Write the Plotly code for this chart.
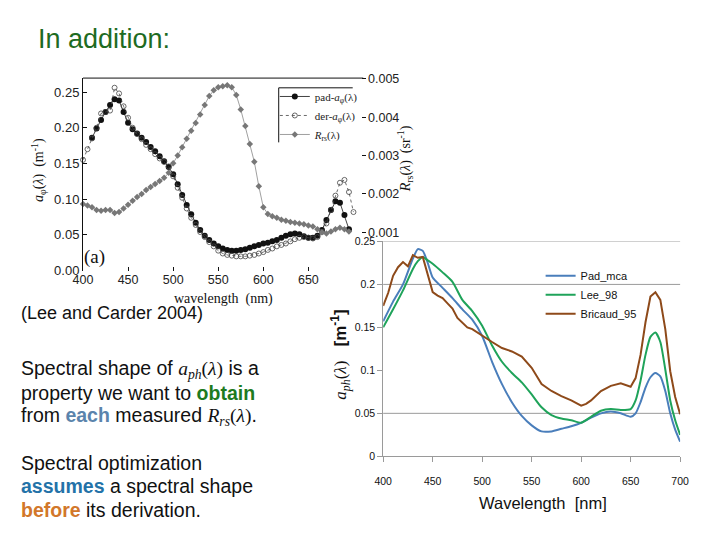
import plotly.graph_objects as go

W, H = 720, 540

# ---------------- top chart (Lee and Carder 2004) data ----------------
wl_top = list(range(400, 700, 5))  # 400..695
pad_wl = list(range(410, 700, 5))
pad_a = [0.186, 0.199, 0.211, 0.222, 0.232, 0.240, 0.238, 0.222, 0.207, 0.198,
         0.192, 0.186, 0.180, 0.173, 0.167, 0.160, 0.153, 0.145, 0.135, 0.121,
         0.106, 0.092, 0.079, 0.067, 0.057, 0.049, 0.043, 0.038, 0.034, 0.031,
         0.029, 0.028, 0.028, 0.029, 0.030, 0.032, 0.034, 0.036, 0.038, 0.039,
         0.041, 0.043, 0.046, 0.049, 0.051, 0.052, 0.051, 0.048, 0.046, 0.046,
         0.049, 0.057, 0.071, 0.085, 0.097, 0.095, 0.078, 0.058]
der_wl = list(range(400, 705, 5))
der_a = [0.155, 0.170, 0.185, 0.200, 0.220, 0.222, 0.224, 0.256, 0.248, 0.230,
         0.214, 0.200, 0.191, 0.184, 0.176, 0.170, 0.163, 0.157, 0.152, 0.146,
         0.132, 0.116, 0.102, 0.087, 0.074, 0.064, 0.054, 0.047, 0.040, 0.034,
         0.028, 0.024, 0.022, 0.021, 0.020, 0.020, 0.020, 0.021, 0.022, 0.024,
         0.026, 0.029, 0.031, 0.034, 0.036, 0.038, 0.041, 0.044, 0.046, 0.047,
         0.046, 0.045, 0.047, 0.054, 0.066, 0.085, 0.105, 0.123, 0.127, 0.110,
         0.082, 0.058]
der_wl = der_wl[:len(der_a)]
rrs = [0.00174, 0.00170, 0.00165, 0.00158, 0.00156, 0.00158, 0.00158, 0.00150,
       0.00153, 0.00162, 0.00172, 0.00182, 0.00192, 0.00200, 0.00210, 0.00218,
       0.00226, 0.00234, 0.00242, 0.00255, 0.00280, 0.00300, 0.00322, 0.00344,
       0.00365, 0.00385, 0.00407, 0.00432, 0.00455, 0.00470, 0.00478, 0.00481,
       0.00483, 0.00478, 0.00458, 0.00420, 0.00377, 0.00330, 0.00284, 0.00220,
       0.00165, 0.00148, 0.00142, 0.00138, 0.00133, 0.00130, 0.00127, 0.00125,
       0.00123, 0.00121, 0.00118, 0.00115, 0.00108, 0.00100, 0.00097, 0.00102,
       0.00108, 0.00112, 0.00108, 0.00102]
top_xticks = [400, 450, 500, 550, 600, 650]
top_yticks = [0.0, 0.05, 0.10, 0.15, 0.20, 0.25]
top_yticktext = ["0.00", "0.05", "0.10", "0.15", "0.20", "0.25"]
top_y2ticks = [0.001, 0.002, 0.003, 0.004, 0.005]

# ---------------- bottom chart data ----------------
wl_b = [400, 410, 420, 430, 435, 440, 445, 450, 460, 470, 480, 490, 500, 510,
        520, 530, 540, 550, 560, 570, 580, 590, 600, 610, 620, 630, 640, 650,
        655, 660, 665, 670, 675, 680, 685, 690, 695, 700]
pad_mca = [0.157, 0.180, 0.200, 0.230, 0.241, 0.239, 0.225, 0.208, 0.196, 0.184,
           0.171, 0.159, 0.140, 0.110, 0.084, 0.063, 0.047, 0.036, 0.029, 0.029,
           0.032, 0.035, 0.039, 0.045, 0.050, 0.052, 0.050, 0.046, 0.050, 0.063,
           0.080, 0.092, 0.097, 0.093, 0.076, 0.050, 0.031, 0.017]
lee_98 = [0.150, 0.171, 0.193, 0.218, 0.227, 0.232, 0.228, 0.224, 0.214, 0.203,
          0.182, 0.169, 0.152, 0.129, 0.110, 0.097, 0.086, 0.072, 0.057, 0.048,
          0.044, 0.042, 0.039, 0.046, 0.053, 0.055, 0.054, 0.055, 0.065, 0.088,
          0.118, 0.139, 0.144, 0.133, 0.101, 0.065, 0.042, 0.025]
wl_bri = [400, 405, 410, 415, 420, 425, 430, 435, 440, 445, 450, 455, 460, 465,
          470, 475, 480, 485, 490, 495, 500, 510, 520, 530, 540, 550, 560, 570,
          580, 590, 600, 605, 610, 620, 630, 640, 650, 655, 660, 665, 670, 675,
          680, 685, 690, 695, 700]
bricaud_95 = [0.175, 0.190, 0.210, 0.220, 0.226, 0.221, 0.234, 0.231, 0.232,
              0.212, 0.191, 0.187, 0.184, 0.178, 0.172, 0.161, 0.156, 0.150,
              0.148, 0.144, 0.140, 0.133, 0.126, 0.122, 0.116, 0.103, 0.084,
              0.076, 0.070, 0.065, 0.059, 0.061, 0.065, 0.076, 0.082, 0.085,
              0.081, 0.091, 0.118, 0.156, 0.186, 0.191, 0.182, 0.148, 0.099,
              0.069, 0.049]
bot_yticks = [0, 0.05, 0.10, 0.15, 0.20, 0.25]
bot_yticktext = ["0", "0.05", "0.1", "0.15", "0.2", "0.25"]
bot_grid = [0.05, 0.20, 0.25]

SERIF = "Liberation Serif, Times New Roman, serif"
SANS = "Liberation Sans, Arial, sans-serif"
NARROW = "Liberation Sans Narrow, Arial Narrow, Liberation Sans, Arial, sans-serif"


def px(x):
    return x / W


def py(y):
    return 1 - y / H


fig = go.Figure()

# top chart traces
fig.add_trace(go.Scatter(
    x=pad_wl, y=pad_a, mode="lines+markers", name="pad-<i>a</i><sub>φ</sub>(λ)",
    line=dict(color="#111111", width=0.8),
    marker=dict(symbol="circle", size=6, color="#111111"),
    xaxis="x", yaxis="y", legend="legend", cliponaxis=False))
fig.add_trace(go.Scatter(
    x=der_wl, y=der_a, mode="lines+markers", name="der-<i>a</i><sub>φ</sub>(λ)",
    line=dict(color="#444444", width=0.8, dash="dot"),
    marker=dict(symbol="circle-open", size=5, color="#444444", line=dict(width=0.8)),
    xaxis="x", yaxis="y", legend="legend", cliponaxis=False))
fig.add_trace(go.Scatter(
    x=wl_top, y=rrs, mode="lines+markers", name="<i>R</i><sub>rs</sub>(λ)",
    line=dict(color="#777777", width=0.7),
    marker=dict(symbol="diamond", size=5, color="#777777"),
    xaxis="x", yaxis="y2", legend="legend", cliponaxis=False))

# bottom chart traces
fig.add_trace(go.Scatter(
    x=wl_b, y=pad_mca, mode="lines", name="Pad_mca", line=dict(color="#4A7EBB", width=2, shape="spline", smoothing=0.6),
    xaxis="x2", yaxis="y3", legend="legend2"))
fig.add_trace(go.Scatter(
    x=wl_b, y=lee_98, mode="lines", name="Lee_98", line=dict(color="#1FA35A", width=2, shape="spline", smoothing=0.6),
    xaxis="x2", yaxis="y3", legend="legend2"))
fig.add_trace(go.Scatter(
    x=wl_bri, y=bricaud_95, mode="lines", name="Bricaud_95", line=dict(color="#8E4A1A", width=2),
    xaxis="x2", yaxis="y3", legend="legend2"))

shapes = []
# top border of top chart
shapes.append(dict(type="line", xref="x domain", yref="y domain", x0=0, x1=1.01, y0=1, y1=1,
                   line=dict(color="#111111", width=1)))
# legend box (top & left edges)
shapes.append(dict(type="line", xref="paper", yref="paper", x0=px(276), x1=px(352), y0=py(84), y1=py(84),
                   line=dict(color="#111111", width=1)))
shapes.append(dict(type="line", xref="paper", yref="paper", x0=px(276), x1=px(276), y0=py(84), y1=py(140),
                   line=dict(color="#111111", width=1)))
# bottom chart gridlines
for g in bot_grid:
    shapes.append(dict(type="line", xref="x2 domain", yref="y3", x0=0, x1=1, y0=g, y1=g,
                       line=dict(color="#9A9A9A", width=1), layer="below"))

MATH = 'style="font-family:Liberation Serif"'
ann = []


def text(x, y, s, size, color="#111111", family=SANS, xanchor="left", angle=0):
    ann.append(dict(x=px(x), y=py(y), xref="paper", yref="paper", text=s, showarrow=False,
                    xanchor=xanchor, yanchor="middle", textangle=angle,
                    font=dict(size=size, color=color, family=family)))


text(27, 34, "In addition:", 27, color="#1E6B22")
text(9, 315, "(Lee and Carder 2004)", 18)
text(9, 373, f'Spectral shape of <span {MATH}><i>a<sub>ph</sub></i>(<i>λ</i>)</span> is a', 19.5)
text(9, 397, 'property we want to <b><span style="color:#1E7B1E">obtain</span></b>', 19.5)
text(9, 421, f'from <b><span style="color:#5B84AC">each</span></b> measured <span {MATH}><i>R<sub>rs</sub></i>(<i>λ</i>)</span>.', 19.5)
text(9, 469, "Spectral optimization", 19.5)
text(9, 493, '<b><span style="color:#2372A8">assumes</span></b> a spectral shape', 19.5)
text(9, 517, '<b><span style="color:#D2772A">before</span></b> its derivation.', 19.5)

# top chart axis titles
text(219, 301, "wavelength  (nm)", 14, family=SERIF, xanchor="center")
text(29, 168, "<i>a</i><sub>φ</sub>(<i>λ</i>)  (m<sup>-1</sup>)", 14, family=SERIF, xanchor="center", angle=-90)
text(406, 157, "<i>R</i><sub>rs</sub>(<i>λ</i>)  (sr<sup>-1</sup>)", 14, family=SERIF, xanchor="center", angle=-90)
text(74, 258, "(a)", 19, family=SERIF)

# bottom chart axis titles
text(547, 510, "Wavelength  [nm]", 16.5, xanchor="center")
text(340, 358, f'<span {MATH}><i>a<sub>ph</sub></i>(<i>λ</i>)</span>   <b>[m<sup>-1</sup>]</b>', 17,
     xanchor="center", angle=-90)

fig.update_layout(
    width=W, height=H, margin=dict(l=0, r=0, t=0, b=0),
    paper_bgcolor="white", plot_bgcolor="rgba(0,0,0,0)",
    shapes=shapes, annotations=ann,
    xaxis=dict(domain=[px(75), px(360)], anchor="y", range=[400, 707.8],
               tickvals=top_xticks, ticks="inside", ticklen=4, tickcolor="#111111",
               showline=False, showgrid=False, zeroline=False,
               tickfont=dict(size=12.5, family=SANS, color="#222222")),
    yaxis=dict(domain=[py(271.7), py(74)], anchor="x", range=[0, 0.2695],
               tickvals=top_yticks, ticktext=top_yticktext, ticks="inside", ticklen=4,
               tickcolor="#111111", showline=True, linecolor="#111111", linewidth=1,
               showgrid=False, zeroline=False,
               tickfont=dict(size=13, family=SANS, color="#222222")),
    yaxis2=dict(overlaying="y", side="right", anchor="x", range=[0, 0.00502],
                tickvals=top_y2ticks, tickformat=".3f", ticks="outside", ticklen=4,
                tickcolor="#111111", showline=False, showgrid=False, zeroline=False,
                tickfont=dict(size=12.5, family=SANS, color="#222222")),
    xaxis2=dict(domain=[px(383.3), px(688.3)], anchor="y3", range=[400, 700], dtick=50,
                ticks="outside", ticklen=5, tickcolor="#9A9A9A", showline=True,
                linecolor="#9A9A9A", linewidth=1, showgrid=False, zeroline=False,
                ticklabelstandoff=10,
                tickfont=dict(size=10.5, family=NARROW, color="#111111")),
    yaxis3=dict(domain=[py(462.3), py(241.7)], anchor="x2", range=[0, 0.25],
                tickvals=bot_yticks, ticktext=bot_yticktext, ticks="outside", ticklen=5,
                tickcolor="#9A9A9A", showline=True, linecolor="#9A9A9A", linewidth=1,
                showgrid=False, zeroline=False,
                tickfont=dict(size=10.5, family=NARROW, color="#111111")),
    legend=dict(x=px(272), y=py(78), xanchor="left", yanchor="top",
                bgcolor="rgba(0,0,0,0)", font=dict(size=11, family=SERIF, color="#222222"),
                tracegroupgap=0, itemwidth=30),
    legend2=dict(x=px(545), y=py(262), xanchor="left", yanchor="top",
                 bgcolor="rgba(0,0,0,0)", font=dict(size=11, family=NARROW, color="#111111"),
                 itemwidth=30),
    showlegend=True,
)

fig.write_html("out.html")
